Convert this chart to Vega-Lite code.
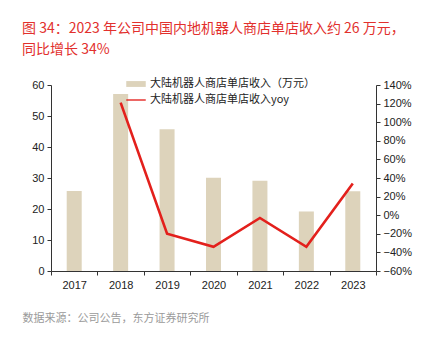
{
  "$schema": "https://vega.github.io/schema/vega-lite/v6.json",
  "autosize": {"type": "none"},
  "width": 325,
  "height": 186,
  "padding": {"left": 51, "top": 85, "right": 49, "bottom": 84},
  "background": "white",
  "config": {
    "view": {"stroke": null},
    "font": "Liberation Sans",
    "axis": {"grid": false, "domainColor": "#333", "tickColor": "#333", "labelColor": "#222", "labelFontSize": 11, "labelFont": "Liberation Sans"}
  },
  "title": {
    "text": ["图 34：2023 年公司中国内地机器人商店单店收入约 26 万元，", "同比增长 34%"],
    "anchor": "start",
    "frame": "group",
    "dx": -29,
    "offset": 17,
    "font": "Noto Sans CJK SC",
    "fontSize": 14,
    "fontWeight": "normal",
    "lineHeight": 21,
    "color": "#E2302D"
  },
  "data": {
    "values": [
      {"year": "2017", "rev": 25.8, "yoy": null},
      {"year": "2018", "rev": 57.1, "yoy": 1.21},
      {"year": "2019", "rev": 45.7, "yoy": -0.20},
      {"year": "2020", "rev": 30.1, "yoy": -0.34},
      {"year": "2021", "rev": 29.1, "yoy": -0.03},
      {"year": "2022", "rev": 19.2, "yoy": -0.34},
      {"year": "2023", "rev": 25.7, "yoy": 0.34}
    ]
  },
  "encoding": {
    "x": {
      "field": "year", "type": "ordinal",
      "scale": {"paddingInner": 0, "paddingOuter": 0},
      "axis": {
        "labelAngle": 0, "tickBand": "extent", "tickSize": 4, "labelPadding": 4,
        "title": "数据来源：公司公告，东方证券研究所",
        "titleAnchor": "start", "titleAlign": "left", "titleX": -29, "titleY": 47, "titleBaseline": "middle",
        "titleColor": "#9a9a9a", "titleFont": "Noto Sans CJK SC", "titleFontSize": 11, "titleFontWeight": "normal"
      }
    }
  },
  "layer": [
    {
      "mark": {"type": "bar", "size": 15},
      "transform": [{"calculate": "'大陆机器人商店单店收入（万元）'", "as": "s1"}],
      "encoding": {
        "y": {
          "field": "rev", "type": "quantitative",
          "scale": {"domain": [0, 60], "nice": false},
          "axis": {"values": [0, 10, 20, 30, 40, 50, 60], "title": null, "tickSize": 4, "labelPadding": 3}
        },
        "color": {
          "field": "s1", "type": "nominal",
          "scale": {"domain": ["大陆机器人商店单店收入（万元）", "大陆机器人商店单店收入yoy"], "range": ["#DDD3BB", "#E3201C"]},
          "legend": {
            "orient": "none", "legendX": 75, "legendY": -11, "title": null,
            "symbolType": "M-1,-0.3H1V0.3H-1Z", "symbolSize": 380, "symbolStrokeWidth": 0,
            "labelFont": "Noto Sans CJK SC", "labelFontSize": 11, "labelColor": "#222", "rowPadding": 1, "labelOffset": 4, "labelLimit": 400,
            "encode": {
              "symbols": {
                "update": {
                  "shape": {"signal": "datum.value === '大陆机器人商店单店收入yoy' ? 'M-1,-0.07H1V0.07H-1Z' : 'M-1,-0.3H1V0.3H-1Z'"}
                }
              }
            }
          }
        }
      }
    },
    {
      "mark": {"type": "line", "strokeWidth": 2.6},
      "transform": [{"filter": "datum.yoy != null"}, {"calculate": "'大陆机器人商店单店收入yoy'", "as": "s1"}],
      "encoding": {
        "y": {
          "field": "yoy", "type": "quantitative",
          "scale": {"domain": [-0.6, 1.4], "nice": false},
          "axis": {"orient": "right", "format": ".0%", "values": [-0.6, -0.4, -0.2, 0, 0.2, 0.4, 0.6, 0.8, 1.0, 1.2, 1.4], "title": null, "tickSize": 4, "labelPadding": 3}
        },
        "color": {"field": "s1", "type": "nominal"}
      }
    }
  ],
  "resolve": {"scale": {"y": "independent"}}
}
